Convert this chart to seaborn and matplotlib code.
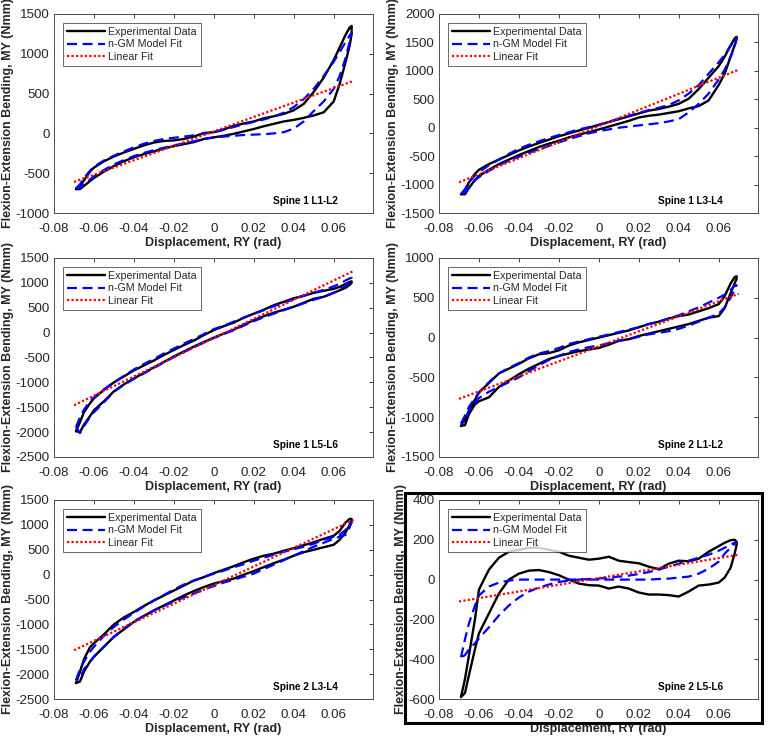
import numpy as np
import matplotlib
matplotlib.use("Agg")
import matplotlib.pyplot as plt
from matplotlib.patches import Rectangle
from matplotlib.ticker import FuncFormatter
import seaborn as sns

# =========================
# DATA
# =========================
# shared displacement grid (rad); upper branch runs left->right, lower branch right->left
XG = [-0.069, -0.067, -0.065, -0.062, -0.06, -0.055, -0.05, -0.045, -0.04, -0.035,
      -0.03, -0.025, -0.02, -0.015, -0.01, -0.005, 0, 0.005, 0.01, 0.015,
      0.02, 0.025, 0.03, 0.035, 0.04, 0.045, 0.05, 0.055, 0.06, 0.063,
      0.066, 0.068, 0.069]

# Spine 1 L1-L2
S1L12_EXP_UP = [-700, -660, -590, -480, -430, -350, -290, -240, -195, -150, -115, -95, -88, -70, -40, 5, 15,
                50, 95, 125, 150, 190, 215, 245, 290, 370, 520, 700, 920, 1080, 1240, 1330, 1350]
S1L12_EXP_DN = [-700, -700, -660, -600, -560, -480, -410, -350, -300, -260, -225, -190, -160, -135, -110, -70, -50,
                -30, -5, 25, 55, 90, 120, 150, 170, 195, 225, 265, 400, 620, 900, 1100, 1250]
S1L12_FIT_UP = [-690, -640, -560, -470, -420, -340, -280, -225, -175, -130, -95, -70, -55, -40, -25, -5, 15,
                45, 80, 115, 145, 175, 210, 260, 330, 430, 560, 720, 900, 1020, 1150, 1230, 1260]
S1L12_FIT_DN = [-690, -680, -640, -580, -540, -460, -390, -335, -285, -245, -210, -180, -150, -125, -100, -70, -50,
                -40, -30, -20, -15, -10, 0, 15, 60, 150, 280, 400, 560, 720, 950, 1150, 1260]
S1L12_LIN = [-610, 660]

# Spine 1 L3-L4
S1L34_EXP_UP = [-1170, -1100, -960, -810, -740, -640, -560, -480, -400, -330, -270, -210, -150, -100, -50, 0, 50,
                100, 150, 200, 250, 300, 330, 370, 420, 510, 680, 880, 1080, 1250, 1450, 1570, 1600]
S1L34_EXP_DN = [-1170, -1170, -1060, -920, -850, -740, -640, -560, -480, -410, -340, -280, -230, -170, -120, -80, -30,
                20, 70, 120, 180, 210, 230, 260, 290, 340, 380, 480, 750, 950, 1250, 1450, 1560]
S1L34_FIT_UP = [-1170, -1080, -960, -840, -780, -660, -560, -460, -370, -300, -240, -180, -130, -80, -30, 10, 50,
                100, 160, 210, 260, 310, 350, 400, 480, 600, 750, 950, 1150, 1280, 1440, 1540, 1580]
S1L34_FIT_DN = [-1170, -1140, -1040, -920, -870, -760, -660, -580, -510, -440, -380, -320, -260, -200, -150, -100, -60,
                -30, 0, 20, 40, 60, 80, 110, 150, 270, 420, 600, 850, 1020, 1250, 1430, 1580]
S1L34_LIN = [-960, 1020]

# Spine 1 L5-L6
S1L56_EXP_UP = [-1980, -1800, -1600, -1420, -1320, -1150, -1000, -880, -760, -660, -560, -450, -350, -250, -160, -50, 50,
                130, 200, 300, 380, 460, 550, 620, 690, 740, 800, 840, 880, 920, 980, 1020, 1030]
S1L56_EXP_DN = [-1980, -2000, -1850, -1680, -1560, -1380, -1180, -1040, -920, -810, -700, -590, -480, -380, -280, -190, -100,
                -20, 60, 160, 250, 330, 400, 460, 520, 600, 680, 720, 800, 850, 900, 960, 1000]
S1L56_FIT_UP = [-1900, -1700, -1550, -1380, -1300, -1140, -1000, -870, -740, -630, -530, -420, -320, -220, -130, -30, 70,
                140, 220, 300, 380, 450, 530, 600, 670, 740, 800, 860, 930, 980, 1050, 1090, 1100]
S1L56_FIT_DN = [-1900, -2020, -1880, -1700, -1600, -1400, -1190, -1050, -930, -820, -710, -600, -490, -390, -290, -200, -110,
                -30, 50, 140, 230, 310, 380, 450, 520, 590, 660, 720, 800, 870, 950, 1020, 1100]
S1L56_LIN = [-1460, 1240]

# Spine 2 L1-L2
S2L12_EXP_UP = [-1110, -1020, -920, -780, -690, -570, -450, -390, -330, -260, -210, -195, -160, -100, -60, -30, 0,
                30, 60, 90, 130, 170, 200, 240, 270, 290, 330, 370, 420, 520, 680, 760, 770]
S2L12_EXP_DN = [-1110, -1100, -960, -840, -800, -750, -620, -540, -460, -390, -330, -270, -230, -200, -170, -150, -130,
                -90, -40, -20, 20, 50, 80, 110, 140, 170, 210, 250, 270, 370, 560, 680, 740]
S2L12_FIT_UP = [-1080, -980, -870, -760, -690, -560, -450, -380, -320, -250, -200, -170, -130, -80, -50, -20, 10,
                40, 70, 100, 130, 170, 200, 240, 280, 330, 380, 440, 500, 540, 600, 650, 660]
S2L12_FIT_DN = [-1080, -1040, -920, -820, -760, -680, -620, -560, -500, -420, -350, -280, -230, -180, -150, -120, -100,
                -70, -40, -20, 10, 40, 60, 80, 110, 150, 200, 250, 300, 380, 500, 600, 660]
S2L12_LIN = [-770, 550]

# Spine 2 L3-L4
S2L34_EXP_UP = [-2180, -1950, -1700, -1460, -1380, -1200, -1000, -860, -750, -630, -520, -420, -320, -220, -120, -50, 30,
                100, 170, 250, 320, 380, 420, 480, 530, 590, 650, 720, 780, 880, 1050, 1120, 1120]
S2L34_EXP_DN = [-2180, -2150, -1950, -1750, -1650, -1450, -1250, -1100, -950, -830, -720, -620, -520, -420, -330, -250, -180,
                -130, -80, 0, 70, 150, 230, 300, 380, 450, 500, 550, 600, 700, 850, 1000, 1080]
S2L34_FIT_UP = [-2120, -1900, -1750, -1550, -1450, -1230, -1050, -900, -770, -640, -520, -410, -300, -200, -120, -50, 20,
                80, 150, 210, 280, 340, 400, 460, 510, 560, 620, 700, 760, 800, 900, 1000, 1050]
S2L34_FIT_DN = [-2120, -2080, -1900, -1750, -1650, -1450, -1250, -1080, -940, -830, -720, -630, -540, -460, -380, -300, -230,
                -160, -100, -40, 20, 110, 200, 290, 380, 470, 560, 640, 720, 760, 800, 950, 1050]
S2L34_LIN = [-1520, 1100]

# Spine 2 L5-L6
S2L56_EXP_UP = [-590, -500, -380, -200, -50, 50, 110, 140, 150, 160, 160, 150, 140, 120, 110, 100, 105,
                115, 95, 88, 82, 65, 52, 80, 95, 92, 105, 140, 168, 185, 198, 200, 190]
S2L56_EXP_DN = [-590, -570, -480, -350, -270, -170, -70, 0, 30, 45, 48, 38, 22, 0, -20, -28, -30,
                -45, -35, -45, -65, -75, -75, -78, -85, -60, -30, -25, -15, 10, 60, 130, 175]
S2L56_FIT_UP = [-390, -300, -220, -130, -80, -35, -15, -5, 0, 0, 0, 0, 0, 0, 0, 3, 5,
                10, 15, 20, 28, 38, 50, 65, 80, 95, 110, 125, 145, 160, 175, 185, 185]
S2L56_FIT_DN = [-390, -380, -350, -320, -295, -240, -180, -130, -90, -60, -40, -25, -12, -5, 0, 0, 0,
                0, 0, 0, 0, 0, 3, 5, 10, 15, 30, 55, 90, 130, 160, 180, 185]
S2L56_LIN = [-110, 125]

LIN_X = [-0.07, 0.07]

PANELS = [
    ("Spine 1 L1-L2", S1L12_EXP_UP, S1L12_EXP_DN, S1L12_FIT_UP, S1L12_FIT_DN, S1L12_LIN, (-1000, 1500), 500),
    ("Spine 1 L3-L4", S1L34_EXP_UP, S1L34_EXP_DN, S1L34_FIT_UP, S1L34_FIT_DN, S1L34_LIN, (-1500, 2000), 500),
    ("Spine 1 L5-L6", S1L56_EXP_UP, S1L56_EXP_DN, S1L56_FIT_UP, S1L56_FIT_DN, S1L56_LIN, (-2500, 1500), 500),
    ("Spine 2 L1-L2", S2L12_EXP_UP, S2L12_EXP_DN, S2L12_FIT_UP, S2L12_FIT_DN, S2L12_LIN, (-1500, 1000), 500),
    ("Spine 2 L3-L4", S2L34_EXP_UP, S2L34_EXP_DN, S2L34_FIT_UP, S2L34_FIT_DN, S2L34_LIN, (-2500, 1500), 500),
    ("Spine 2 L5-L6", S2L56_EXP_UP, S2L56_EXP_DN, S2L56_FIT_UP, S2L56_FIT_DN, S2L56_LIN, (-600, 400), 200),
]

# =========================
# STYLE
# =========================
sns.set_style("white")
plt.rcParams['font.family'] = ['Liberation Sans', 'DejaVu Sans']
TXT = '#262626'

fig = plt.figure(figsize=(7.7, 7.39), dpi=100)

W, H = 770.0, 739.0
lefts = [54, 439]
tops = [14, 258, 500]
aw, ah = 319, 199


def loop(up, dn):
    return list(XG) + list(XG[::-1]), list(up) + list(dn[::-1])


for i, (name, eup, edn, fup, fdn, lin, ylim, ystep) in enumerate(PANELS):
    r, c = divmod(i, 2)
    ax = fig.add_axes([lefts[c] / W, 1 - (tops[r] + ah) / H, aw / W, ah / H])

    ex, ey = loop(eup, edn)
    fx, fy = loop(fup, fdn)
    sns.lineplot(x=ex, y=ey, sort=False, estimator=None, color='black', lw=1.7,
                 ax=ax, label='Experimental Data')
    sns.lineplot(x=fx, y=fy, sort=False, estimator=None, color='#0000ff', lw=1.6,
                 linestyle=(0, (4.5, 2.5)), ax=ax, label='n-GM Model Fit')
    sns.lineplot(x=LIN_X, y=lin, sort=False, estimator=None, color='#ff0000', lw=1.6,
                 linestyle=(0, (1, 1)), ax=ax, label='Linear Fit')

    ax.set_xlim(-0.08, 0.0797)
    ax.set_ylim(*ylim)
    ax.set_xticks(np.arange(-0.08, 0.0601, 0.02))
    ax.set_yticks(np.arange(ylim[0], ylim[1] + 1, ystep))
    ax.xaxis.set_major_formatter(FuncFormatter(lambda v, p: '%g' % round(v, 3)))
    ax.yaxis.set_major_formatter(FuncFormatter(lambda v, p: '%g' % v))
    ax.tick_params(direction='in', length=3, width=0.6, top=True, right=True,
                   labelsize=9.6, colors=TXT)
    ax.tick_params(axis='x', pad=7.5)
    ax.tick_params(axis='y', pad=3)
    for s in ax.spines.values():
        s.set_color('#4d4d4d')
        s.set_linewidth(0.7)

    ax.set_xlabel('Displacement, RY (rad)', fontsize=9, fontweight='bold', color=TXT, labelpad=1)
    ax.set_ylabel('Flexion-Extension Bending, MY (Nmm)', fontsize=9, fontweight='bold', color=TXT, labelpad=1)

    leg = ax.legend(loc='upper left', bbox_to_anchor=(0.028, 0.955), borderaxespad=0,
                    fontsize=7.7, frameon=True, fancybox=False, handlelength=3.6,
                    handletextpad=0.3, labelspacing=0.25, borderpad=0.35)
    leg.get_frame().set_edgecolor('#262626')
    leg.get_frame().set_linewidth(0.6)
    for t in leg.get_texts():
        t.set_color(TXT)

    ax.text(0.89, 0.06, name, transform=ax.transAxes, ha='right', va='center',
            fontsize=7.2, fontweight='bold', color='black')

# frame around the last panel
fig.add_artist(Rectangle((405 / W, 1 - 723 / H), 357 / W, 230 / H, transform=fig.transFigure,
                         fill=False, lw=2.2, ec='black', zorder=10))

fig.savefig('out.png', dpi=100)
